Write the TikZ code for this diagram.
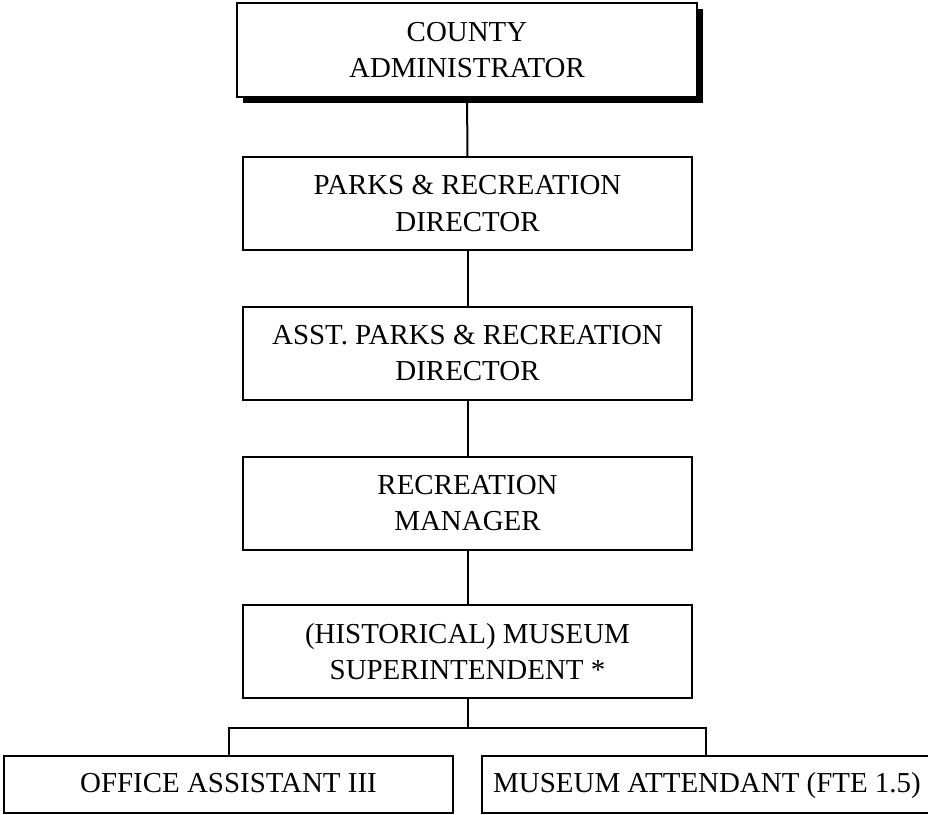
\documentclass[tikz,border=0pt]{standalone}
\usepackage{fontspec}
\setmainfont{Liberation Serif}
\usetikzlibrary{shadows}
\begin{document}
\begin{tikzpicture}[x=0.75pt,y=-0.75pt,
  every node/.style={font=\fontsize{21.7pt}{27.5pt}\selectfont},
  orgbox/.style={draw=black, line width=1.5pt, fill=white, inner sep=0pt,
    align=center, minimum width=336.75pt, minimum height=69.75pt},
  topbox/.style={orgbox, minimum width=345pt, minimum height=70.5pt,
    drop shadow={shadow xshift=4.5pt, shadow yshift=-4.5pt, opacity=1, fill=black}},
  leafbox/.style={orgbox, minimum width=336.75pt, minimum height=42.75pt,
    text height=15pt, text depth=3.5pt},
  link/.style={draw=black, line width=1.5pt}]
\useasboundingbox (0,0) rectangle (928,814);

% chain of command
\node[topbox] (admin) at (467,50) {COUNTY\\ADMINISTRATOR};
\node[orgbox] (dir) at (467.5,203.5) {PARKS \& RECREATION\\DIRECTOR};
\node[orgbox] (asst) at (467.5,353) {ASST. PARKS \& RECREATION\\DIRECTOR};
\node[orgbox] (mgr) at (467.5,503) {RECREATION\\MANAGER};
\node[orgbox] (supt) at (467.5,651.5) {(HISTORICAL) MUSEUM\\SUPERINTENDENT *};

% staff row
\node[leafbox] (office) at (228.5,784.5) {OFFICE ASSISTANT III};
\node[leafbox, minimum width=337.5pt] (attend) at (707,784.5) {MUSEUM ATTENDANT (FTE 1.5)};

% connectors
\draw[link] (admin) -- (dir);
\draw[link] (dir) -- (asst);
\draw[link] (asst) -- (mgr);
\draw[link] (mgr) -- (supt);
\coordinate (bus) at (467.5,727.5);
\draw[link] (supt) -- (bus);
\draw[link] (office.north) |- (bus) -| ([xshift=-0.75pt]attend.north);
\end{tikzpicture}
\end{document}
